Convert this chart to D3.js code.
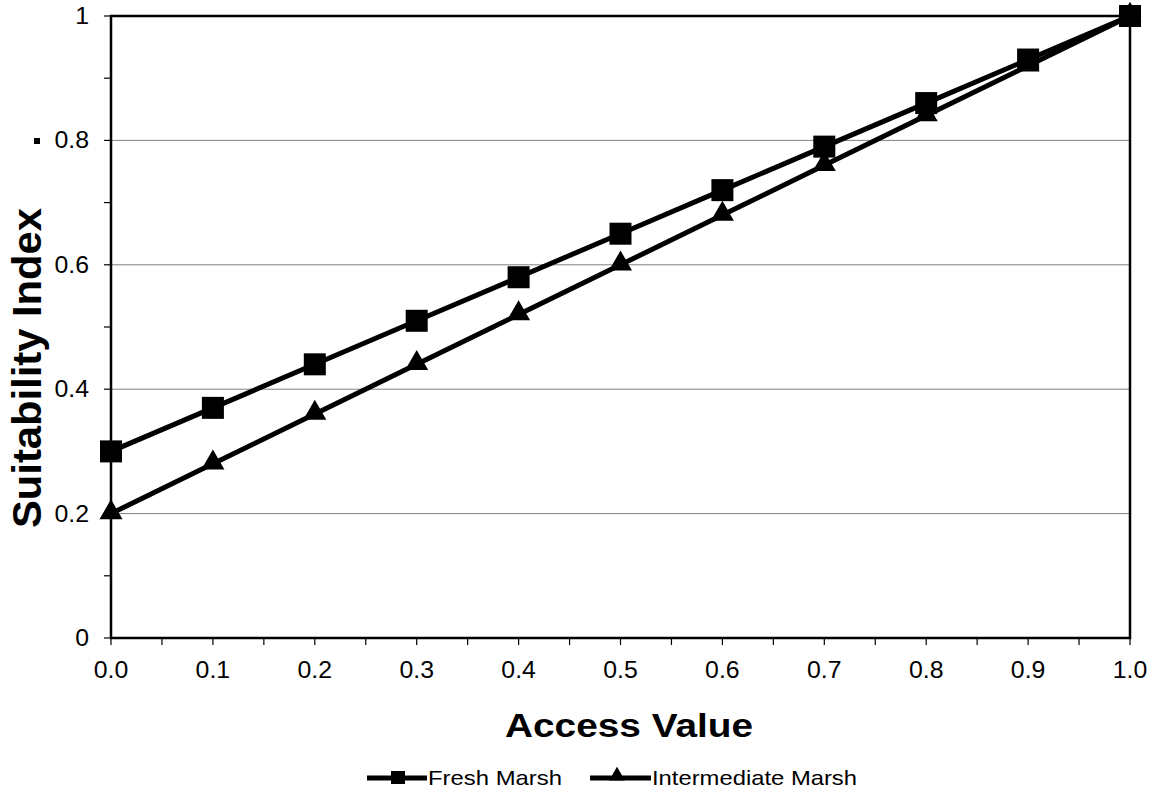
<!DOCTYPE html>
<html><head><meta charset="utf-8">
<script src="https://cdn.jsdelivr.net/npm/d3@7"></script>
<style>body{margin:0;background:#fff}svg{display:block}text{font-family:"Liberation Sans",Arial,sans-serif;fill:#000}</style>
</head><body>
<svg id="c" width="1154" height="792"></svg>
<script>
const accessValues = [0.0,0.1,0.2,0.3,0.4,0.5,0.6,0.7,0.8,0.9,1.0];
const freshMarsh = [0.30,0.37,0.44,0.51,0.58,0.65,0.72,0.79,0.86,0.93,1.0];
const intermediateMarsh = [0.20,0.28,0.36,0.44,0.52,0.60,0.68,0.76,0.84,0.92,1.0];
const yTicks = [0,0.2,0.4,0.6,0.8,1];
const yTickLabels = ["0","0.2","0.4","0.6","0.8","1"];
const xTicks = [0,0.1,0.2,0.3,0.4,0.5,0.6,0.7,0.8,0.9,1.0];
const xTickLabels = ["0.0","0.1","0.2","0.3","0.4","0.5","0.6","0.7","0.8","0.9","1.0"];
const seriesNames = ["Fresh Marsh","Intermediate Marsh"];

const svg = d3.select("#c");
const L=111, R=1130, T=16, B=638;
const x = d3.scaleLinear().domain([0,1]).range([L,R]);
const y = d3.scaleLinear().domain([0,1]).range([B,T]);

function stretch(sel, f){
  sel.each(function(){
    const w = this.getComputedTextLength();
    d3.select(this).attr("textLength", w*f).attr("lengthAdjust","spacingAndGlyphs");
  });
}

// gridlines
svg.append("g").selectAll("line").data(yTicks.filter(d=>d>0&&d<1)).join("line")
  .attr("x1",L).attr("x2",R).attr("y1",d=>y(d)).attr("y2",d=>y(d))
  .attr("stroke","#808080").attr("stroke-width",1);

// y axis ticks (major + minor)
const yAll = d3.range(0,1.0001,0.1);
svg.append("g").selectAll("line").data(yAll).join("line")
  .attr("x1",L-7).attr("x2",L).attr("y1",d=>y(d)).attr("y2",d=>y(d))
  .attr("stroke","#000").attr("stroke-width",1.2);
// x axis ticks
const xAll = d3.range(0,1.0001,0.05);
svg.append("g").selectAll("line").data(xAll).join("line")
  .attr("x1",d=>x(d)).attr("x2",d=>x(d)).attr("y1",B).attr("y2",B+7)
  .attr("stroke","#000").attr("stroke-width",1.2);

// frame
svg.append("rect").attr("x",L).attr("y",T).attr("width",R-L).attr("height",B-T)
  .attr("fill","none").attr("stroke","#000").attr("stroke-width",2.5);

// tick labels
svg.append("g").selectAll("text").data(yTicks).join("text")
  .attr("x",89).attr("y",d=>y(d)+8).attr("text-anchor","end")
  .attr("font-size",23).text((d,i)=>yTickLabels[i]).call(stretch,1.08);
svg.append("rect").attr("x",34).attr("y",138).attr("width",6).attr("height",6).attr("fill","#000");
svg.append("g").selectAll("text").data(xTicks).join("text")
  .attr("x",d=>x(d)).attr("y",678).attr("text-anchor","middle")
  .attr("font-size",23).text((d,i)=>xTickLabels[i]).call(stretch,1.08);

// titles
svg.append("text").attr("transform","translate(41,368) rotate(-90)")
  .attr("text-anchor","middle").attr("font-size",41).attr("font-weight","bold")
  .attr("textLength",320).attr("lengthAdjust","spacingAndGlyphs")
  .text("Suitability Index");
svg.append("text").attr("x",629).attr("y",737).attr("text-anchor","middle")
  .attr("font-size",34).attr("font-weight","bold")
  .attr("textLength",248).attr("lengthAdjust","spacingAndGlyphs")
  .text("Access Value");

// lines
const line = d3.line().x((d,i)=>x(accessValues[i])).y(d=>y(d));
[freshMarsh, intermediateMarsh].forEach(s=>{
  svg.append("path").datum(s).attr("d",line).attr("fill","none")
    .attr("stroke","#000").attr("stroke-width",5).attr("stroke-linejoin","round");
});
// markers
svg.append("g").selectAll("rect").data(freshMarsh).join("rect")
  .attr("x",(d,i)=>x(accessValues[i])-11).attr("y",d=>y(d)-11)
  .attr("width",22).attr("height",22).attr("fill","#000");
const tri = d3.symbol().type(d3.symbolTriangle).size(230);
svg.append("g").selectAll("path").data(intermediateMarsh).join("path")
  .attr("d",tri).attr("transform",(d,i)=>`translate(${x(accessValues[i])},${y(d)-1})`)
  .attr("fill","#000");

// legend
const lg = svg.append("g");
lg.append("line").attr("x1",367).attr("x2",427).attr("y1",778).attr("y2",778).attr("stroke","#000").attr("stroke-width",5);
lg.append("rect").attr("x",391).attr("y",771).attr("width",14).attr("height",13).attr("fill","#000");
lg.append("text").attr("x",428).attr("y",785).attr("font-size",21)
  .attr("textLength",134).attr("lengthAdjust","spacingAndGlyphs").text(seriesNames[0]);
lg.append("line").attr("x1",590).attr("x2",651).attr("y1",778).attr("y2",778).attr("stroke","#000").attr("stroke-width",5);
lg.append("path").attr("d",d3.symbol().type(d3.symbolTriangle).size(110)).attr("transform","translate(617,776)").attr("fill","#000");
lg.append("text").attr("x",652).attr("y",785).attr("font-size",21)
  .attr("textLength",205).attr("lengthAdjust","spacingAndGlyphs").text(seriesNames[1]);
</script>
</body></html>
